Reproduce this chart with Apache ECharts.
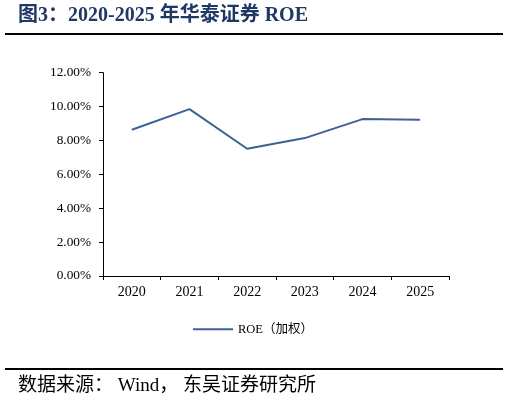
<!DOCTYPE html>
<html>
<head>
<meta charset="utf-8">
<script src="https://cdn.jsdelivr.net/npm/echarts@6/dist/echarts.min.js"></script>
<style>
html,body{margin:0;padding:0;background:#fff;}
#c{width:509px;height:402px;}
</style>
</head>
<body>
<div id="c"></div>
<script>
var titleText = '图3：2020-2025 年华泰证券 ROE';
var sourceText = '数据来源： Wind， 东吴证券研究所';
var seriesName = 'ROE（加权）';
var categories = ['2020', '2021', '2022', '2023', '2024', '2025'];
var roeValues = [8.63, 9.85, 7.51, 8.14, 9.26, 9.22];
var yTicks = [0, 2, 4, 6, 8, 10, 12];

var serif = '"Liberation Serif","Times New Roman","Noto Sans CJK SC",serif';
var chart = echarts.init(document.getElementById('c'), null, {renderer: 'canvas'});
chart.setOption({
  animation: false,
  backgroundColor: '#fff',
  grid: {left: 103, right: 60, top: 72.7, bottom: 126},
  legend: {
    data: [{name: seriesName, icon: 'rect'}],
    left: 193, top: 323, padding: 0,
    itemWidth: 40, itemHeight: 2, itemGap: 4,
    textStyle: {fontFamily: serif, fontSize: 12.5, color: '#000'}
  },
  xAxis: {
    type: 'category',
    data: categories,
    boundaryGap: true,
    axisLine: {lineStyle: {color: '#000', width: 1}},
    axisTick: {show: true, length: 4, lineStyle: {color: '#000'}},
    axisLabel: {fontFamily: serif, fontSize: 14, color: '#000', margin: 9}
  },
  yAxis: {
    type: 'value',
    min: yTicks[0], max: yTicks[yTicks.length - 1], interval: 2,
    splitLine: {show: false},
    axisLine: {show: true, lineStyle: {color: '#000', width: 1}},
    axisTick: {show: true, length: 4, lineStyle: {color: '#000'}},
    axisLabel: {fontFamily: serif, fontSize: 13.3, color: '#000', margin: 12,
      formatter: function (v) { return v.toFixed(2) + '%'; }}
  },
  series: [{
    name: seriesName,
    type: 'line',
    data: roeValues,
    symbol: 'none',
    lineStyle: {color: '#3c6296', width: 2},
    itemStyle: {color: '#3c6296'}
  }],
  graphic: [
    {type: 'text', left: 18, top: 6,
      style: {text: titleText, fontFamily: serif, fontWeight: 'bold', fontSize: 20, fill: '#1f3864'}},
    {type: 'rect', shape: {x: 5, y: 33, width: 498, height: 2}, style: {fill: '#000'}},
    {type: 'rect', shape: {x: 5, y: 368, width: 498, height: 2}, style: {fill: '#000'}},
    {type: 'text', left: 18, top: 377,
      style: {text: sourceText, fontFamily: serif, fontSize: 19, fill: '#000'}}
  ]
});
</script>
</body>
</html>
